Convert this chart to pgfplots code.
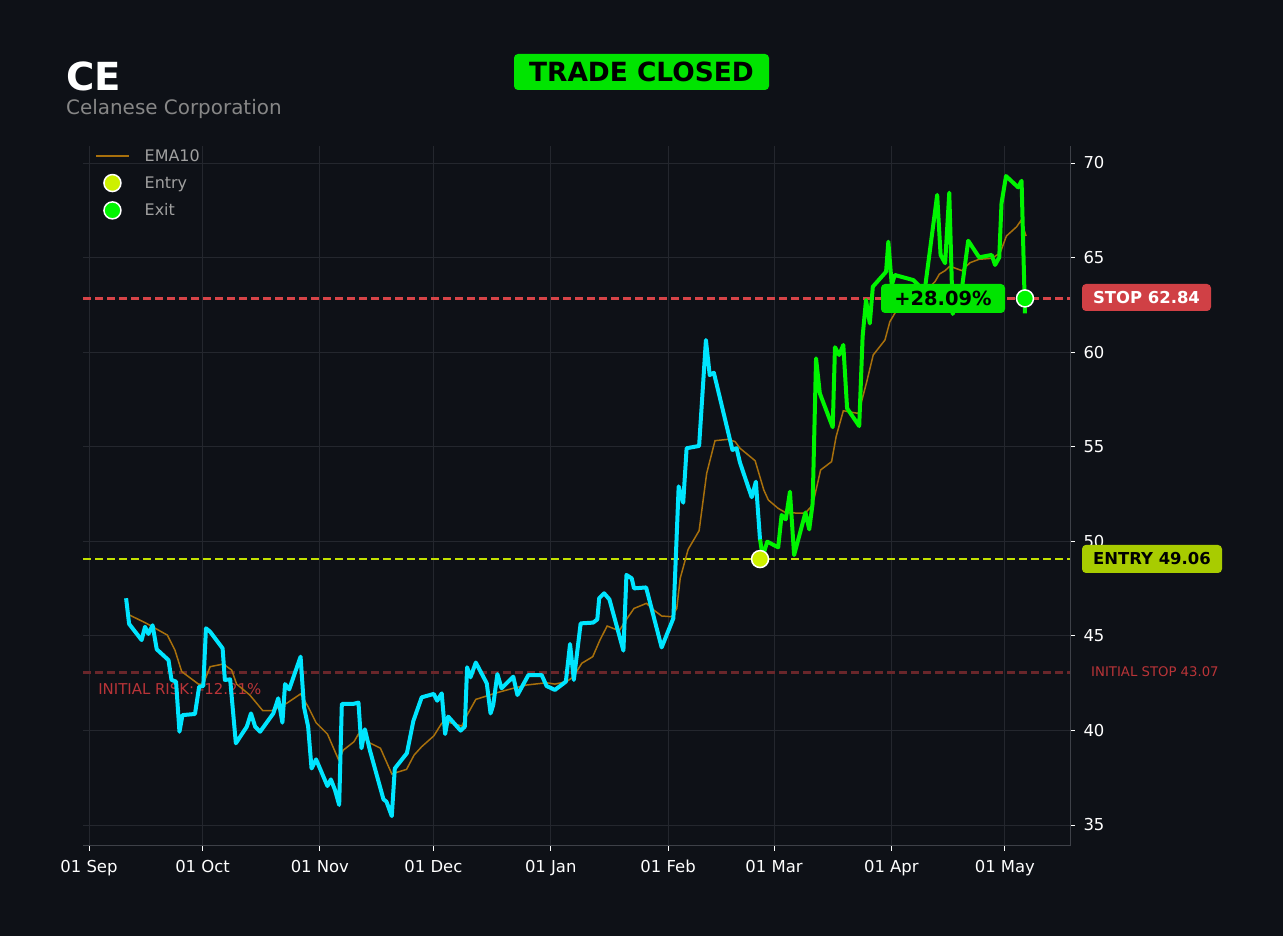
\documentclass[border=0pt]{standalone}
\usepackage{fontspec}
\setmainfont{DejaVu Sans}
\usepackage{pgfplots}
\usepackage{pgfplotstable}
\pgfplotsset{compat=1.18}
\definecolor{bg}{RGB}{14,17,23}
\definecolor{gridc}{RGB}{36,39,46}
\definecolor{spine}{RGB}{62,65,72}
\definecolor{pricecyan}{RGB}{0,229,255}
\definecolor{pricegreen}{RGB}{0,245,0}
\definecolor{emac}{RGB}{168,112,12}
\definecolor{stopred}{RGB}{215,68,72}
\definecolor{stopbox}{RGB}{208,64,69}
\definecolor{entryc}{RGB}{195,225,0}
\definecolor{entrybox}{RGB}{168,204,0}
\definecolor{entrymark}{RGB}{205,240,0}
\definecolor{initc}{RGB}{105,38,42}
\definecolor{inittext}{RGB}{185,52,56}
\definecolor{legendgray}{RGB}{160,160,160}
\definecolor{subgray}{RGB}{135,135,135}
\definecolor{closedgreen}{RGB}{0,228,0}

\pgfplotsset{
  legline/.style={legend image code/.code={\draw[##1] (0bp,0bp) -- (33bp,0bp);}},
  legmark/.style={legend image code/.code={\draw[mark repeat=2,mark phase=2,##1] plot coordinates {(0bp,0bp) (16.5bp,0bp) (33bp,0bp)};}},
}

\pgfplotstableread{
d v
9.8 46.99
10.6 45.63
13.9 44.78
14.8 45.48
15.7 45.10
16.8 45.56
17.9 44.29
21.0 43.72
21.8 42.67
23.0 42.58
23.9 39.93
24.7 40.81
28.0 40.87
29.1 42.31
30.2 42.35
30.9 45.40
32.0 45.22
35.3 44.34
35.9 42.67
37.3 42.70
38.8 39.32
41.7 40.20
42.8 40.90
43.9 40.20
45.2 39.93
48.7 40.90
50.0 41.70
51.1 40.41
51.8 42.45
52.9 42.17
55.9 43.90
56.8 41.25
57.9 40.20
58.8 37.99
60.0 38.47
63.0 37.06
63.9 37.41
65.0 36.85
66.1 36.06
66.8 41.40
69.8 41.40
71.2 41.47
72.0 39.06
72.9 40.06
74.2 38.96
77.8 36.36
78.6 36.23
80.0 35.47
80.8 37.99
84.0 38.80
85.7 40.50
87.9 41.75
91.1 41.93
92.0 41.57
93.2 41.96
94.1 39.81
94.9 40.73
98.2 39.99
99.3 40.20
99.9 43.34
100.8 42.81
102.2 43.59
105.1 42.49
106.1 40.90
106.8 41.34
107.9 42.98
109.0 42.23
112.1 42.84
113.2 41.87
116.1 42.93
119.6 42.93
120.9 42.35
123.1 42.14
126.0 42.58
127.1 44.57
128.1 42.67
129.9 45.66
133.2 45.70
134.3 45.87
134.8 46.99
136.1 47.25
137.5 46.93
141.2 44.22
142.0 48.22
143.4 48.04
144.0 47.51
147.2 47.56
151.3 44.39
154.4 45.93
155.8 52.90
157.0 52.04
157.9 54.92
161.2 55.04
163.0 60.64
164.0 58.79
165.1 58.91
170.0 54.83
171.1 54.92
172.0 54.16
175.1 52.33
176.2 53.15
177.3 50.07
}\cyandata

\pgfplotstableread{
d v
177.3 50.10
178.0 49.20
179.2 49.98
182.1 49.68
183.0 51.39
184.1 51.16
185.2 52.62
186.3 49.27
189.3 51.52
190.3 50.63
191.2 52.01
192.1 59.67
193.1 57.82
196.5 56.03
197.1 60.26
198.2 59.85
199.3 60.38
200.3 57.03
203.5 56.09
204.4 60.82
205.3 62.76
206.3 61.52
207.1 63.46
210.6 64.25
211.2 65.84
212.1 63.55
212.9 64.08
217.8 63.81
219.1 63.55
220.3 62.27
221.1 63.72
224.1 68.31
225.0 65.14
226.2 64.70
227.3 68.43
228.2 62.02
230.6 63.32
232.3 65.89
235.2 65.01
238.5 65.14
239.4 64.61
240.5 65.01
241.1 67.87
242.3 69.31
245.5 68.71
246.4 69.06
247.3 62.05
}\greendata

\pgfplotstableread{
d v
9.8 46.19
15.2 45.66
17.5 45.40
20.7 45.04
22.7 44.25
24.5 43.11
28.9 42.45
30.2 42.45
32.0 43.37
35.5 43.51
37.7 43.19
39.0 42.45
42.5 41.87
45.9 41.05
48.3 41.05
52.2 41.43
55.9 41.93
57.9 41.25
60.0 40.41
63.0 39.81
65.9 38.47
67.2 38.96
70.0 39.40
71.2 39.81
74.0 39.36
77.0 39.06
80.0 37.70
83.9 37.94
85.9 38.70
87.9 39.14
91.1 39.71
93.2 40.38
94.5 40.46
98.5 40.23
99.9 40.81
102.2 41.64
107.7 41.99
112.1 42.23
115.6 42.40
120.9 42.52
123.1 42.45
126.2 42.58
128.0 42.84
130.2 43.55
133.1 43.90
135.0 44.78
136.9 45.52
140.1 45.27
142.0 45.87
144.0 46.45
147.3 46.72
149.0 46.40
151.3 46.05
154.0 46.01
155.3 46.45
156.2 48.04
158.3 49.57
161.2 50.56
163.2 53.59
165.4 55.32
168.9 55.39
170.7 55.27
172.0 54.92
176.0 54.26
178.3 52.71
179.5 52.18
182.1 51.74
184.1 51.51
189.2 51.48
191.2 51.92
193.3 53.77
196.2 54.21
197.4 55.53
199.3 56.90
203.3 56.76
205.5 58.44
207.2 59.85
210.3 60.64
211.6 61.61
212.9 62.05
215.1 62.49
219.1 63.02
221.3 63.29
223.5 63.72
224.7 64.13
226.2 64.31
227.3 64.52
228.2 64.49
230.6 64.31
232.8 64.73
235.2 64.91
238.5 64.96
240.7 65.23
242.4 66.14
245.1 66.63
246.2 66.95
247.6 66.14
}\emadata

\begin{document}
\begin{tikzpicture}[x=1bp,y=1bp]
\fill[bg] (0,0) rectangle (1283,936);
\path[use as bounding box] (0,0) rectangle (1283,936);
\begin{axis}[
  at={(83bp,90bp)}, anchor=south west,
  scale only axis, width=987bp, height=700bp,
  xmin=-1.585, xmax=259.2, ymin=33.89, ymax=70.9,
  axis x line*=bottom, axis y line*=right,
  axis line style={draw=spine, line width=1bp},
  xtick={0,30,61,91,122,153,181,212,242},
  xticklabels={01 Sep,01 Oct,01 Nov,01 Dec,01 Jan,01 Feb,01 Mar,01 Apr,01 May},
  ytick={35,40,45,50,55,60,65,70},
  /pgf/number format/assume math mode=true,
  tick label style={font=\fontsize{16.5}{19}\selectfont, text=white},
  xticklabel style={text height=12.5bp, text depth=3.5bp, yshift=-5bp},
  yticklabel style={xshift=5bp},
  tick align=outside, major tick length=5bp,
  tick style={draw=white, line width=1bp},
  grid=major, major grid style={draw=gridc, line width=1bp},
  legend cell align=left,
  legend style={at={(rel axis cs:0,1)}, anchor=north west, draw=none, fill=none,
    font=\fontsize{16}{19}\selectfont, text=legendgray, row sep=10bp, column sep=13bp,
    inner sep=4bp, xshift=8bp, yshift=3bp},
]
\addplot[initc, line width=2.5bp, dash pattern=on 8bp off 4bp, forget plot] coordinates {(-1.585,43.07) (259.2,43.07)};
\addplot[entryc, line width=2.5bp, dash pattern=on 8bp off 4bp, forget plot] coordinates {(-1.585,49.06) (259.2,49.06)};
\addplot[stopred, line width=2.5bp, dash pattern=on 8bp off 4bp, forget plot] coordinates {(-1.585,62.84) (259.2,62.84)};
\node[anchor=west, text=inittext, font=\fontsize{15}{18}\selectfont, inner sep=0pt] at (axis cs:2.4,42.2) {INITIAL RISK: -12.21\%};
\addplot[emac, line width=1.5bp, legline] table[x=d,y=v] {\emadata};
\addlegendentry{EMA10}
\addplot[pricecyan, line width=4bp, line join=round, forget plot] table[x=d,y=v] {\cyandata};
\addplot[pricegreen, line width=4bp, line join=round, forget plot] table[x=d,y=v] {\greendata};
\addplot[only marks, mark=*, mark size=8.5bp, mark options={fill=entrymark, draw=white, line width=1.5bp}, legmark] coordinates {(177.3,49.06)};
\addlegendentry{Entry}
\addplot[only marks, mark=*, mark size=8.5bp, mark options={fill=pricegreen, draw=white, line width=1.5bp}, legmark] coordinates {(247.3,62.84)};
\addlegendentry{Exit}
\end{axis}
% titles
\node[anchor=base west, text=white, font=\fontsize{38.8}{44}\bfseries, inner sep=0pt] at (66,845) {CE};
\node[anchor=base west, text=subgray, font=\fontsize{20}{24}\selectfont, inner sep=0pt] at (66,821) {Celanese Corporation};
\node[fill=closedgreen, rounded corners=4bp, minimum width=255bp, minimum height=36bp, inner sep=0pt,
  text=black, font=\fontsize{26.5}{30}\bfseries] at (641.5,864) {TRADE CLOSED};
% labels
\node[fill=closedgreen, rounded corners=4bp, minimum width=124bp, minimum height=29bp, inner sep=0pt,
  text=black, font=\fontsize{19.5}{22}\bfseries] at (943,637.5) {+28.09\%};
\node[fill=stopbox, rounded corners=4bp, minimum width=129bp, minimum height=27bp, inner sep=0pt,
  text=white, font=\fontsize{16.5}{19}\bfseries] at (1146.5,638.5) {STOP 62.84};
\node[fill=entrybox, rounded corners=4bp, minimum width=140bp, minimum height=28bp, inner sep=0pt,
  text=black, font=\fontsize{16.5}{19}\bfseries] at (1152,377) {ENTRY 49.06};
\node[anchor=west, text=inittext, font=\fontsize{13.3}{16}\selectfont, inner sep=0pt] at (1091,264) {INITIAL STOP 43.07};
\end{tikzpicture}
\end{document}
